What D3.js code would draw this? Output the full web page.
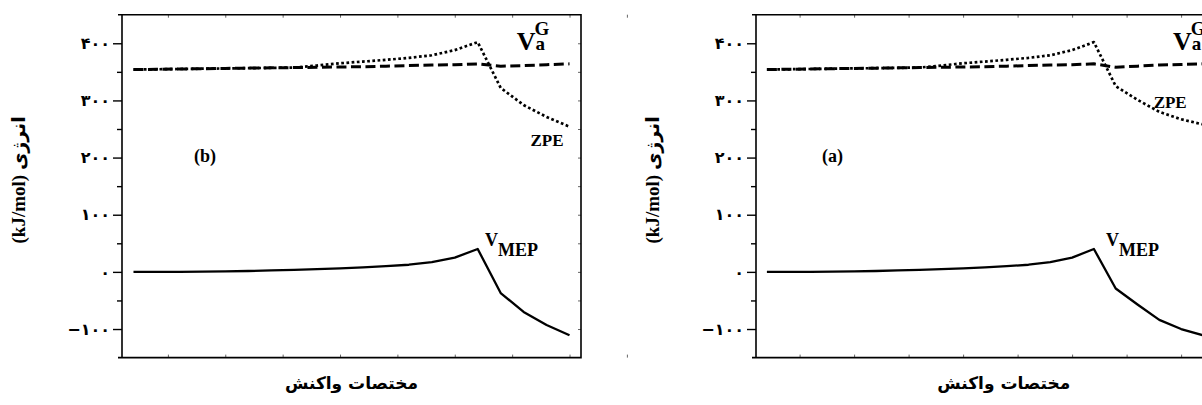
<!DOCTYPE html>
<html>
<head>
<meta charset="utf-8">
<script src="https://cdn.jsdelivr.net/npm/d3@7"></script>
<style>
  html, body { margin: 0; padding: 0; background: #fff; }
  svg { display: block; }
  .latin { font-family: "Liberation Serif", "Times New Roman", serif; font-weight: bold; fill: #000; }
  .farsi { font-family: "DejaVu Sans", sans-serif; font-weight: bold; fill: #000; }
  .tick text { font-family: "DejaVu Sans", sans-serif; font-weight: bold; font-size: 16px; fill: #000; }
  .tick line { stroke: #000; stroke-width: 1.4; }
  .edge .tick line { stroke: #666; stroke-width: 1; }
</style>
</head>
<body>
<div id="chart"></div>
<script>
"use strict";

// ---- data ----
// points along the reaction path (index)
var stepsB = [0, 1, 2, 3, 4, 5, 6, 7, 8, 9, 10, 11, 12, 13, 14, 15, 16, 17, 18, 19];
var mepB = [0, 0, 0, 0.3, 0.8, 1.5, 2.5, 3.5, 4.8, 6.3, 8, 10, 12.5, 17, 25, 40, -37, -70, -93, -111];
var zpeB = [354, 354.5, 355, 355.5, 356, 356.5, 357, 357.5, 358, 358.5, 359, 360, 361, 362, 362.5, 364, 360, 361, 362.5, 364];
var vagB = [354, 354.5, 355, 355.5, 356, 356.5, 357, 357.5, 361, 365, 368, 371, 374.5, 379, 388, 402, 322, 292, 271, 254];

var stepsA = [0, 1, 2, 3, 4, 5, 6, 7, 8, 9, 10, 11, 12, 13, 14, 15, 16, 17, 18, 19, 20];
var mepA = [0, 0, 0, 0.3, 0.8, 1.5, 2.5, 3.5, 4.8, 6.3, 8, 10, 12.5, 17, 25, 40, -29, -57, -84, -100, -111];
var zpeA = [354, 354.5, 355, 355.5, 356, 356.5, 357, 357.5, 358, 358.5, 359, 360, 361, 362, 362.5, 364, 358, 360, 362, 363, 364];
var vagA = [354, 354.5, 355, 355.5, 356, 356.5, 357, 357.5, 361, 365, 368, 371, 374.5, 379, 388, 402, 325, 301, 280, 267, 258];

var yTicks = [-100, 0, 100, 200, 300, 400];
var yMinorTicks = [-50, 50, 150, 250, 350];
var yEdgeTicks = [-100, -50, 0, 50, 100, 150, 200, 250, 300, 350, 400];
var xTicks = [1.5, 4, 6.5, 9, 11.5, 14, 16.5, 19, 21.5];
var persianNumerals = ["۰", "۱", "۲", "۳", "۴", "۵", "۶", "۷", "۸", "۹"];
var xTitle = "مختصات واکنش";
var yTitle = "(kJ/mol) انرژی";

(function() {
  var Panel, fa, svg;

  fa = d3.formatLocale({
    decimal: ".", thousands: ",", grouping: [3], currency: ["", ""],
    numerals: persianNumerals, minus: "\u2212"
  });

  Panel = (function() {
    // constructor
    function Panel(svg, opts) {
      this.svg = svg;
      this.opts = opts;
      this.x = d3.scaleLinear().domain(opts.domain).range([0, opts.width]);
      this.y = d3.scaleLinear().domain([-150, 450]).range([opts.height, 0]);
      this.g = svg.append("g")
        .attr("transform", "translate(" + opts.left + "," + opts.top + ")");
    }

    Panel.prototype.drawAxes = function() {
      var g = this.g, x = this.x, y = this.y, o = this.opts;
      var noDomain = function(s) { s.select(".domain").remove(); };

      // left axis with labels
      g.append("g")
        .call(d3.axisLeft(y).tickValues(yTicks).tickSize(9).tickPadding(3)
          .tickFormat(fa.format("d")))
        .call(noDomain);

      g.append("g")
        .call(d3.axisLeft(y).tickValues(yMinorTicks).tickSize(5).tickFormat(""))
        .call(noDomain);

      // small inner ticks on the other three sides
      g.append("g").attr("class", "edge")
        .attr("transform", "translate(" + o.width + ",0)")
        .call(d3.axisLeft(y).tickValues(yEdgeTicks).tickSize(3).tickFormat(""))
        .call(noDomain);

      g.append("g").attr("class", "edge")
        .call(d3.axisBottom(x).tickValues(xTicks).tickSize(3).tickFormat(""))
        .call(noDomain);

      g.append("g").attr("class", "edge")
        .attr("transform", "translate(0," + o.height + ")")
        .call(d3.axisTop(x).tickValues(xTicks).tickSize(3).tickFormat(""))
        .call(noDomain);

      // frame
      g.append("path")
        .attr("fill", "none")
        .attr("stroke", "#000")
        .attr("stroke-width", 1.6)
        .attr("d", "M-4,0H" + o.width + "V" + o.height + "H-4M0,0V" + o.height);
    };

    Panel.prototype.drawSeries = function(steps, mep, zpe, vag) {
      var g = this.g, x = this.x, y = this.y, line, addLine;

      line = d3.line()
        .x(function(d) { return x(d[0]); })
        .y(function(d) { return y(d[1]); });

      addLine = function(values, width, dash) {
        return g.append("path")
          .datum(d3.zip(steps, values))
          .attr("fill", "none")
          .attr("stroke", "#000")
          .attr("stroke-width", width)
          .attr("stroke-dasharray", dash)
          .attr("stroke-linejoin", "round")
          .attr("d", line);
      };

      addLine(zpe, 3, "10,4.5");
      addLine(vag, 2.7, "2.7,2.5");
      addLine(mep, 2.3, null);
    };

    Panel.prototype.drawLabels = function() {
      var g = this.g, x = this.x, y = this.y, o = this.opts, t, v, w;

      // V_a^G : sub and sup stacked after the V
      t = g.append("text").attr("class", "latin")
        .attr("x", x(o.vag[0])).attr("y", y(o.vag[1]))
        .style("font-size", "26px");
      v = t.append("tspan").text("V");
      w = v.node().getComputedTextLength();
      t.append("tspan").style("font-size", "19px").text("a");
      t.append("tspan").style("font-size", "19px")
        .attr("x", x(o.vag[0]) + w - 1).attr("dy", -15).text("G");

      // ZPE
      g.append("text").attr("class", "latin")
        .attr("x", x(o.zpe[0])).attr("y", y(o.zpe[1]))
        .style("font-size", "17px").text("ZPE");

      // V_MEP
      t = g.append("text").attr("class", "latin")
        .attr("x", x(o.mep[0])).attr("y", y(o.mep[1]))
        .style("font-size", "18px");
      t.append("tspan").text("V");
      t.append("tspan").attr("dy", 10).text("MEP");

      // panel tag
      g.append("text").attr("class", "latin")
        .attr("x", x(o.tag[0])).attr("y", y(o.tag[1]))
        .style("font-size", "18px").text(o.tagText);

      // axis titles
      g.append("text").attr("class", "farsi")
        .attr("text-anchor", "middle")
        .attr("transform", "translate(-97," + (y(175) + 8) + ") rotate(-90)")
        .style("font-size", "19px")
        .style("font-family", "'Liberation Serif', 'DejaVu Sans', serif")
        .text(yTitle);

      g.append("text").attr("class", "farsi")
        .attr("text-anchor", "middle")
        .attr("x", o.width / 2 + o.titleShift).attr("y", o.height + 31)
        .style("font-size", "17px")
        .text(xTitle);
    };

    return Panel;
  })();

  // operations
  svg = d3.select("#chart").append("svg")
    .attr("width", 1202)
    .attr("height", 405);

  [
    { left: 122, top: 14.7, width: 459, height: 342.9, domain: [-0.5, 19.5],
      steps: stepsB, mep: mepB, zpe: zpeB, vag: vagB, titleShift: 0,
      labels: { vag: [16.7, 388], zpe: [17.3, 220], mep: [15.32, 46], tag: [2.64, 192] },
      tagText: "(b)" },
    { left: 756, top: 14.7, width: 479.6, height: 342.9, domain: [-0.5, 21.5],
      steps: stepsA, mep: mepA, zpe: zpeA, vag: vagA, titleShift: 8,
      labels: { vag: [18.63, 388], zpe: [17.74, 286], mep: [15.56, 46], tag: [2.53, 192] },
      tagText: "(a)" }
  ].forEach(function(p) {
    var panel = new Panel(svg, {
      left: p.left, top: p.top, width: p.width, height: p.height, domain: p.domain,
      vag: p.labels.vag, zpe: p.labels.zpe, mep: p.labels.mep, tag: p.labels.tag,
      tagText: p.tagText, titleShift: p.titleShift
    });
    panel.drawSeries(p.steps, p.mep, p.zpe, p.vag);
    panel.drawAxes();
    panel.drawLabels();
  });
})();
</script>
</body>
</html>
